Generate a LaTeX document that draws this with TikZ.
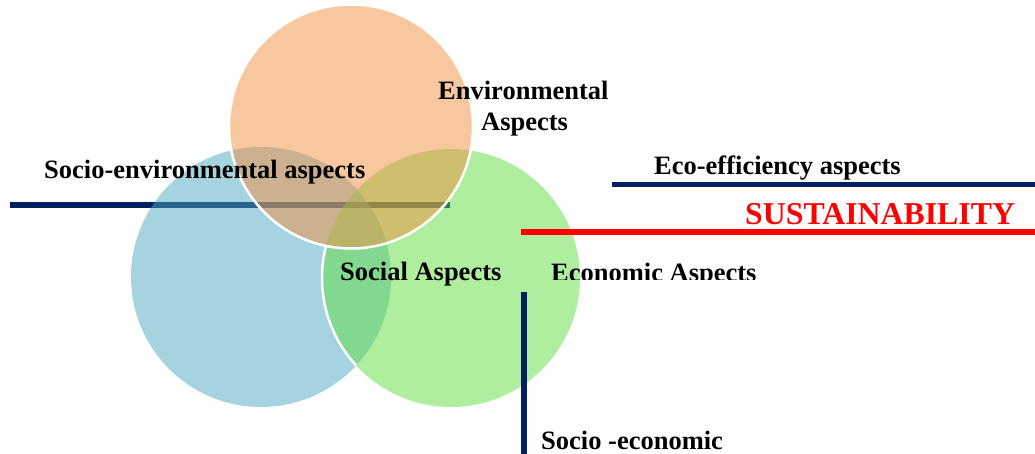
\documentclass[tikz,border=0pt]{standalone}
\usepackage{fontspec}
\setmainfont{Liberation Serif}
\definecolor{envC}{RGB}{241,145,65}
\definecolor{socC}{RGB}{77,169,193}
\definecolor{ecoC}{RGB}{97,221,65}
\definecolor{navy}{RGB}{0,32,96}
\definecolor{redL}{RGB}{255,0,0}
\begin{document}
\begin{tikzpicture}[x=1pt,y=-1pt,
  lbl/.style={font=\bfseries\fontsize{26.5}{30}\selectfont, inner sep=0pt, anchor=base west},
  bar/.style={line width=5.5pt},
  circ/.style={fill opacity=0.5},
  rim/.style={white, line width=2.5pt}]
\useasboundingbox[fill=white] (0,0) rectangle (1035,454);
% centres
\coordinate (cEnv) at (351,126.5);
\coordinate (cSoc) at (261,277);
\coordinate (cEco) at (451,278);
% socio-environmental bar (under the circles)
\coordinate (seL) at (10,205);
\coordinate (seR) at (450,205);
\draw[bar,navy] (seL) -- (seR);
% circles
\fill[socC,circ] (cSoc) circle[radius=130];
\fill[ecoC,circ] (cEco) circle[radius=129];
\begin{scope}
  \clip (cSoc) circle[radius=130];
  \clip (0,245.4) rectangle (1035,454);
  \draw[rim] (cEco) circle[radius=129];
\end{scope}
\fill[envC,circ] (cEnv) circle[radius=122];
\draw[rim] (cEnv) circle[radius=122];
% right-hand bars
\coordinate (effL) at (612,184.5);
\coordinate (effR) at (1035,184.5);
\draw[bar,navy] (effL) -- (effR);
\coordinate (susL) at (521,232);
\coordinate (susR) at (1035,232);
\draw[line width=6pt,redL] (susL) -- (susR);
\coordinate (seT) at (523.7,291.7);
\coordinate (seB) at (523.7,454);
\draw[line width=6pt,navy] (seT) -- (seB);
% labels
\node[lbl] (tSE) at (44,178.5) {Socio-environmental aspects};
\node[lbl] (tEnv1) at (438,100) {Environmental};
\node[lbl] (tEnv2) at (481,130.5) {Aspects};
\node[lbl] (tEff) at (654,175) {Eco-efficiency aspects};
\node[lbl, text=redL, font=\bfseries\fontsize{31.8}{36}\selectfont] (tSus) at (745,224.5) {SUSTAINABILITY};
\node[lbl] (tSoc) at (340,280.5) {Social Aspects};
\begin{scope}
  \clip (540,240) rectangle (800,279.5);
  \node[lbl] (tEco) at (551,281.5) {Economic Aspects};
\end{scope}
\node[lbl] (tSEc) at (541,449.5) {Socio -economic};
\end{tikzpicture}
\end{document}
